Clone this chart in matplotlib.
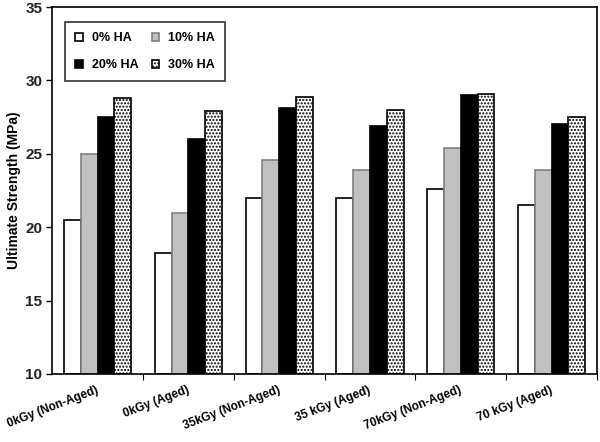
import numpy as np
import matplotlib
matplotlib.use("Agg")
import matplotlib.pyplot as plt

plt.rcParams['font.family'] = ['Liberation Sans', 'DejaVu Sans']
plt.rcParams['hatch.linewidth'] = 1.0

# data
categories = ["0kGy (Non-Aged)", "0kGy (Aged)", "35kGy (Non-Aged)",
              "35 kGy (Aged)", "70kGy (Non-Aged)", "70 kGy (Aged)"]
series = ["0% HA", "10% HA", "20% HA", "30% HA"]
ha0 = [20.5, 18.25, 22.0, 22.0, 22.6, 21.5]
ha10 = [25.0, 21.0, 24.6, 23.9, 25.4, 23.9]
ha20 = [27.5, 26.0, 28.1, 26.9, 29.0, 27.0]
ha30 = [28.8, 27.9, 28.9, 28.0, 29.1, 27.5]

values = [ha0, ha10, ha20, ha30]
faces = ["white", "#c0c0c0", "black", "white"]
edges = ["black", "#808080", "black", "black"]
hatches = [None, None, None, "....."]

fig = plt.figure(figsize=(6, 4.42), dpi=100)
ax = fig.add_axes([0.087, 0.154, 0.908, 0.830])

x = np.arange(len(categories))
w = 0.185
bars = []
for i, vals in enumerate(values):
    b = ax.bar(x + (i - 1.5) * w, np.array(vals) - 10, width=w, bottom=10,
               color=faces[i], edgecolor=edges[i], hatch=hatches[i],
               linewidth=1.2, label=series[i], zorder=2)
    bars.append(b)

ax.set_xlim(-0.5, len(categories) - 0.5)
ax.set_ylim(10, 35)
ax.set_yticks([10, 15, 20, 25, 30, 35])
ax.set_xticks(x + 0.5, minor=False)
ax.set_xticklabels([])
ax.tick_params(axis='x', direction='out', length=4, width=0.8)
ax.tick_params(axis='y', direction='out', length=4, width=1, labelsize=11, pad=3)
for lab in ax.get_yticklabels():
    lab.set_fontweight('bold')
    lab.set_color('#222222')

for xi, name in zip(x, categories):
    ax.text(xi - 0.02, 9.3, name, rotation=21, ha='right', va='top',
            rotation_mode='anchor', fontsize=8.5, fontweight='bold',
            transform=ax.transData, clip_on=False)

ax.set_ylabel("Ultimate Strength (MPa)", fontsize=10, fontweight='bold', labelpad=3)
for sp in ax.spines.values():
    sp.set_linewidth(1.2)

# row-wise order: 0%, 10% / 20%, 30%
order = [0, 2, 1, 3]
leg = ax.legend([bars[i] for i in order], [series[i] for i in order],
                ncol=2, loc='upper left', bbox_to_anchor=(0.024, 0.959),
                borderaxespad=0, fancybox=False, edgecolor='black',
                handlelength=0.6, handleheight=0.6, handletextpad=0.7,
                columnspacing=1.1, labelspacing=1.2, borderpad=0.8,
                prop={'weight': 'bold', 'size': 9})
leg.get_frame().set_linewidth(1.2)

fig.savefig("out.png", dpi=100)
